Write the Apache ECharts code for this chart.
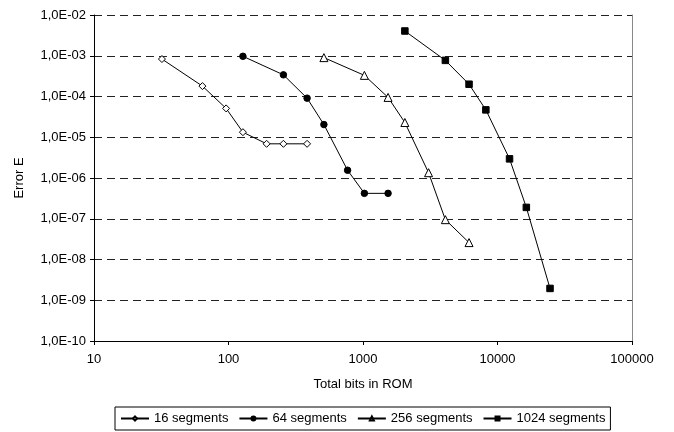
<!DOCTYPE html>
<html>
<head>
<meta charset="utf-8">
<script src="https://cdn.jsdelivr.net/npm/echarts@6/dist/echarts.min.js"></script>
<style>
  html, body { margin: 0; padding: 0; background: #fff; }
  #chart { width: 674px; height: 432px; }
</style>
</head>
<body>
<div id="chart"></div>
<script>
// data
var seriesNames = ['16 segments', '64 segments', '256 segments', '1024 segments'];
var bits16 = [32, 64, 96, 128, 192, 256, 384];
var err16 = [8.3e-4, 1.8e-4, 5.1e-5, 1.33e-5, 6.9e-6, 6.9e-6, 6.9e-6];
var bits64 = [128, 256, 384, 512, 768, 1024, 1536];
var err64 = [9.7e-4, 3.4e-4, 9.1e-5, 2.05e-5, 1.55e-6, 4.2e-7, 4.2e-7];
var bits256 = [512, 1024, 1536, 2048, 3072, 4096, 6144];
var err256 = [9e-4, 3.3e-4, 9.5e-5, 2.3e-5, 1.35e-6, 9.5e-8, 2.6e-8];
var bits1024 = [2048, 4096, 6144, 8192, 12288, 16384, 24576];
var err1024 = [4.05e-3, 7.7e-4, 2.0e-4, 4.7e-5, 2.95e-6, 1.9e-7, 1.95e-9];

var font = 'Liberation Sans, Arial, sans-serif';

function pairs(xs, ys) {
  return xs.map(function (x, i) { return [x, ys[i]]; });
}

function sciLabel(v) {
  var e = Math.round(Math.log10(v));
  var a = Math.abs(e);
  return '1,0E' + (e < 0 ? '-' : '+') + (a < 10 ? '0' : '') + a;
}

// marker styles per series
var markers = [
  { symbol: 'diamond', size: 7, fill: '#fff' },
  { symbol: 'circle', size: 6.5, fill: '#000' },
  { symbol: 'triangle', size: 8, fill: '#fff' },
  { symbol: 'rect', size: 6.5, fill: '#000' }
];
var dataSets = [pairs(bits16, err16), pairs(bits64, err64), pairs(bits256, err256), pairs(bits1024, err1024)];

var chart = echarts.init(document.getElementById('chart'), null, { renderer: 'canvas' });

var series = seriesNames.map(function (name, i) {
  var m = markers[i];
  return {
    name: name,
    type: 'line',
    data: dataSets[i],
    symbol: m.symbol,
    symbolSize: m.size,
    showAllSymbol: true,
    lineStyle: { color: '#000', width: 1 },
    itemStyle: { color: m.fill, borderColor: '#000', borderWidth: 1 },
    emphasis: { disabled: true },
    animation: false
  };
});

var option = {
  animation: false,
  textStyle: { fontFamily: font, color: '#000' },
  grid: { left: 94, top: 15, right: 42, bottom: 91 },
  legend: {
    left: 115,
    top: 407,
    orient: 'horizontal',
    padding: [5, 5],
    itemGap: 10,
    itemWidth: 28,
    itemHeight: 5,
    borderColor: '#000',
    borderWidth: 1,
    textStyle: { fontFamily: font, fontSize: 13, color: '#000' },
    data: seriesNames
  },
  xAxis: {
    type: 'log',
    logBase: 10,
    min: 10,
    max: 100000,
    interval: 1,
    name: 'Total bits in ROM',
    nameLocation: 'middle',
    nameGap: 37,
    nameTextStyle: { fontFamily: font, fontSize: 13, color: '#000' },
    axisLine: { lineStyle: { color: '#000', width: 1 } },
    axisTick: { length: 4, lineStyle: { color: '#000' } },
    axisLabel: {
      fontFamily: font, fontSize: 13, color: '#000', margin: 12,
      formatter: function (v) { return String(Math.round(v)); }
    },
    splitLine: { show: false }
  },
  yAxis: [{
    type: 'log',
    logBase: 10,
    min: 1e-10,
    max: 1e-2,
    interval: 1,
    name: 'Error E',
    nameLocation: 'middle',
    nameGap: 68,
    nameTextStyle: { fontFamily: font, fontSize: 13, color: '#000' },
    axisLine: { show: true, lineStyle: { color: '#000', width: 1 } },
    axisTick: { show: true, length: 4, lineStyle: { color: '#000' } },
    axisLabel: { fontFamily: font, fontSize: 13, color: '#000', margin: 8, formatter: sciLabel },
    splitLine: { show: true, lineStyle: { color: '#222', width: 1, type: [8, 5] } }
  }, {
    type: 'log',
    logBase: 10,
    min: 1e-10,
    max: 1e-2,
    position: 'right',
    axisLine: { show: true, lineStyle: { color: '#888', width: 1 } },
    axisTick: { show: false },
    axisLabel: { show: false },
    splitLine: { show: false }
  }],
  series: series
};

chart.setOption(option);
</script>
</body>
</html>
